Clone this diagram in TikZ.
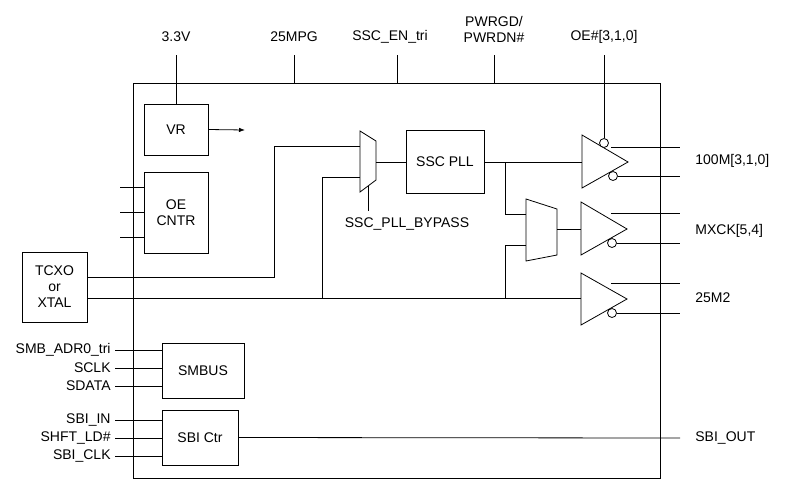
\documentclass[tikz,border=0pt]{standalone}
\usepackage{fontspec}
\setmainfont{Liberation Sans}
\usetikzlibrary{arrows.meta}
\tikzset{
  blk/.style={draw, rectangle, align=center, inner sep=0pt},
  lbl/.style={inner sep=1pt, font=\fontsize{14}{16}\selectfont},
  bub/.style={draw, circle, fill=white, minimum size=9pt, inner sep=0pt},
}
\begin{document}
\begin{tikzpicture}[x=1pt, y=-1pt, line width=0.8pt, font=\fontsize{14}{16}\selectfont]
    \useasboundingbox (0,0) rectangle (800,491);
    % main box
    \draw (133,83) rectangle (660,478);

    % blocks
    \node[blk, minimum width=64pt, minimum height=51pt] (VR) at (176,129.5) {VR};
    \node[blk, minimum width=64pt, minimum height=81pt] (OE) at (176,212.5) {OE\\CNTR};
    \node[blk, minimum width=65pt, minimum height=70pt] (TCXO) at (54.5,287) {TCXO\\or\\XTAL};
    \node[blk, minimum width=78pt, minimum height=63pt] (PLL) at (445,161.5) {SSC PLL};
    \node[blk, minimum width=82pt, minimum height=55pt] (SMB) at (203,370.5) {SMBUS};
    \node[blk, minimum width=76pt, minimum height=55pt] (SBI) at (200,437.5) {SBI Ctr};

    % top pins
    \node[lbl] (v33) at (176,37) {3.3V};
    \node[lbl] (mpg) at (294,37) {25MPG};
    \node[lbl] (ssc) at (390,37) {SSC\_EN\_tri};
    \node[lbl, align=center] (pwr) at (494,29) {PWRGD/\\PWRDN\#};
    \node[lbl] (oe) at (604,37) {OE\#[3,1,0]};
    \coordinate (v33T) at (176,55); \draw (v33T) -- (VR.north);
    \coordinate (mpgT) at (294,55); \draw (mpgT) -- (294,83);
    \coordinate (sscT) at (397,55); \draw (sscT) -- (397,83);
    \coordinate (pwrT) at (494,55); \draw (pwrT) -- (494,83);
    \coordinate (oeT) at (604,55);
    \coordinate (vrA) at (245,130);
    \draw[-{Latex[length=6pt]}] (VR.east) -- (vrA);

    % OE CNTR stubs
    \foreach \yy in {187,212,237} \draw (120,\yy) -- (144,\yy);

    % muxes
    \draw (360,131) -- (376,141) -- (376,180) -- (360,192) -- cycle;
    \coordinate (m1o) at (376,162);
    \draw (368,186) -- (368,211);
    \node[lbl] (byp) at (407,224) {SSC\_PLL\_BYPASS};
    \draw (526,199) -- (557,209) -- (557,255) -- (526,261) -- cycle;
    \coordinate (m2o) at (557,229);

    % buffers
    \draw (582,135) -- (628,162) -- (582,188) -- cycle;
    \draw (581,202) -- (627,229) -- (581,255) -- cycle;
    \draw (581,273) -- (627,299) -- (581,325) -- cycle;
    \node[bub] (b1t) at (604,143) {};
    \node[bub] (b1b) at (613,176) {};
    \node[bub] (b2b) at (612,243) {};
    \node[bub] (b3b) at (612,313) {};
    \draw (oeT) -- (b1t.north);

    % outputs
    \draw (611,147) -- (680,147);
    \draw (b1b.east) -- (680,176);
    \draw (611,213) -- (680,213);
    \draw (b2b.east) -- (680,243);
    \draw (611,283) -- (680,283);
    \draw (b3b.east) -- (680,313);
    \node[lbl, anchor=west] (o1) at (694,161) {100M[3,1,0]};
    \node[lbl, anchor=west] (o2) at (694,231) {MXCK[5,4]};
    \node[lbl, anchor=west] (o3) at (694,298) {25M2};

    % clock paths
    \draw (TCXO.east |- 0,277) -- (274,277) -- (274,146) -- (360,146);
    \draw (TCXO.east |- 0,298) -- (581,298);
    \draw (322,298) -- (322,177) -- (360,177);
    \draw (m1o) -- (PLL.west |- m1o);
    \draw (PLL.east |- 0,162) -- (582,162);
    \draw (505,162) -- (505,214) -- (526,214);
    \draw (505,298) -- (505,245) -- (526,245);
    \draw (m2o) -- (581,229);

    % SMBUS
    \node[lbl, anchor=east] (adr) at (112,350) {SMB\_ADR0\_tri};
    \node[lbl, anchor=east] (sclk) at (112,368) {SCLK};
    \node[lbl, anchor=east] (sdat) at (112,386) {SDATA};
    \foreach \nn in {adr,sclk,sdat} \draw (\nn.east) ++(3,0) -- (SMB.west |- \nn);

    % SBI
    \node[lbl, anchor=east] (sin) at (112,420) {SBI\_IN};
    \node[lbl, anchor=east] (shf) at (112,438) {SHFT\_LD\#};
    \node[lbl, anchor=east] (sck) at (112,456) {SBI\_CLK};
    \foreach \nn in {sin,shf,sck} \draw (\nn.east) ++(3,0) -- (SBI.west |- \nn);
    \node[lbl, anchor=west] (sout) at (694,438) {SBI\_OUT};
    \draw (SBI.east) -- (680,438);
\end{tikzpicture}
\end{document}
